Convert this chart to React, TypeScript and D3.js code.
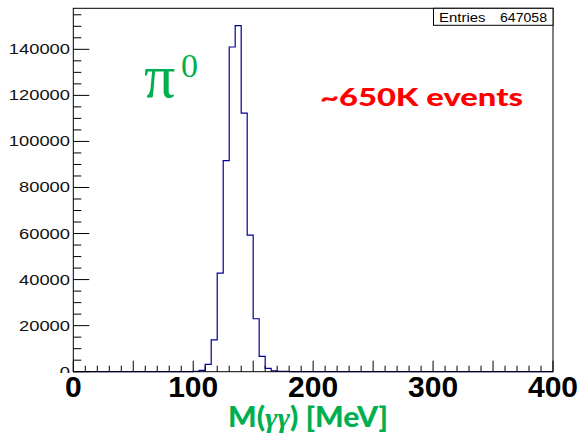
import React from "react";
import * as d3 from "d3";

// Histogram of diphoton invariant mass, 5 MeV bins starting at 100 MeV
const binLowEdges = [100, 105, 110, 115, 120, 125, 130, 135, 140, 145, 150, 155, 160, 165, 170, 175];
const binCounts = [150, 570, 3200, 13800, 42800, 91700, 141000, 150300, 112300, 59300, 23000, 6650, 1430, 400, 200, 100];
const binWidth = 5;
const xDomain = [0, 400];
const xLabelTicks = [0, 100, 200, 300, 400];
const yLabelTicks = [0, 20000, 40000, 60000, 80000, 100000, 120000, 140000];
const entries = 647058;

const W = 579;
const H = 435;
const frame = { left: 73.3, right: 553, top: 8.3, bottom: 371.7 };

const GREEN = "#00B050";
const HIST_BLUE = "#000099";

export default function App() {
  const yMax = 1.05 * (d3.max(binCounts) as number);
  const x = d3.scaleLinear().domain(xDomain).range([frame.left, frame.right]);
  const y = d3.scaleLinear().domain([0, yMax]).range([frame.bottom, frame.top]);

  // full set of bins across the axis range, empty outside the filled region
  const nBins = (xDomain[1] - xDomain[0]) / binWidth;
  const pts: [number, number][] = [];
  for (let i = 0; i < nBins; i++) {
    const lo = xDomain[0] + i * binWidth;
    const k = binLowEdges.indexOf(lo);
    pts.push([lo, k >= 0 ? binCounts[k] : 0]);
  }
  pts.push([xDomain[1], pts[pts.length - 1][1]]);
  const stepPath = d3
    .line<[number, number]>()
    .x((d) => x(d[0]))
    .y((d) => y(d[1]))
    .curve(d3.curveStepAfter)(pts) as string;

  const xMajor = d3.range(0, 401, 50);
  const xMinor = d3.range(0, 401, 10).filter((v) => v % 50 !== 0);
  const yMajor = yLabelTicks;
  const yMinor = d3.range(0, yMax, 5000).filter((v) => v % 20000 !== 0);

  const digitW = 10.2;

  return (
    <svg
      width={W}
      height={H}
      style={{ position: "absolute", left: 0, top: 0, background: "#fff" }}
      xmlns="http://www.w3.org/2000/svg"
    >
      <rect x={0} y={0} width={W} height={H} fill="#fff" />

      {/* histogram outline */}
      <path d={stepPath} fill="none" stroke={HIST_BLUE} strokeWidth={1.2} />

      {/* frame */}
      <rect
        x={frame.left}
        y={frame.top}
        width={frame.right - frame.left}
        height={frame.bottom - frame.top}
        fill="none"
        stroke="#000"
        strokeWidth={1}
      />

      {/* y axis ticks and labels */}
      <g fontFamily="'Liberation Sans', Arial, sans-serif" fontSize={14} fill="#111">
        {yMajor.map((v) => (
          <g key={"ym" + v}>
            <line x1={frame.left} x2={frame.left + 16} y1={y(v)} y2={y(v)} stroke="#000" strokeWidth={1} />
            <text
              x={70}
              y={y(v) + 5}
              textAnchor="end"
              textLength={String(v).length * digitW}
              lengthAdjust="spacingAndGlyphs"
            >
              {v}
            </text>
          </g>
        ))}
        {yMinor.map((v) => (
          <line key={"yn" + v} x1={frame.left} x2={frame.left + 8} y1={y(v)} y2={y(v)} stroke="#000" strokeWidth={1} />
        ))}
      </g>

      {/* x axis ticks */}
      {xMajor.map((v) => (
        <line key={"xm" + v} x1={x(v)} x2={x(v)} y1={frame.bottom} y2={frame.bottom - 11} stroke="#000" strokeWidth={1} />
      ))}
      {xMinor.map((v) => (
        <line key={"xn" + v} x1={x(v)} x2={x(v)} y1={frame.bottom} y2={frame.bottom - 6} stroke="#000" strokeWidth={1} />
      ))}

      {/* label band below the axis */}
      <rect x={40} y={frame.bottom + 1.3} width={W - 40} height={H - frame.bottom} fill="#fff" />

      <g fontFamily="'Liberation Sans', Arial, sans-serif" fontWeight="bold" fontSize={30} fill="#000">
        {xLabelTicks.map((v) => (
          <text key={"xl" + v} x={x(v)} y={397} textAnchor="middle">
            {v}
          </text>
        ))}
      </g>

      {/* axis title */}
      <text
        x={228}
        y={427}
        fill={GREEN}
        fontFamily="Lato, 'Open Sans', sans-serif"
        fontWeight={900}
        fontSize={28}
        textLength={160}
        lengthAdjust="spacingAndGlyphs"
      >
        M(
        <tspan fontFamily="'Liberation Serif', serif" fontStyle="italic">γγ</tspan>
        ) [MeV]
      </text>

      {/* stats box */}
      <rect x={433.5} y={8.3} width={553 - 433.5} height={17} fill="#fff" stroke="#000" strokeWidth={1} />
      <g fontFamily="'Liberation Sans', Arial, sans-serif" fontSize={12} fill="#000">
        <text x={439} y={21.5} textLength={46.5} lengthAdjust="spacingAndGlyphs">
          Entries
        </text>
        <text x={547} y={21.5} textAnchor="end" textLength={47} lengthAdjust="spacingAndGlyphs">
          {entries}
        </text>
      </g>

      {/* annotations */}
      <text x={144} y={96.5} fill={GREEN} fontFamily="'Liberation Serif', serif" fontSize={62}>
        π
      </text>
      <text x={181} y={77} fill={GREEN} fontFamily="'Liberation Serif', serif" fontSize={34}>
        0
      </text>
      <text
        x={320}
        y={106}
        fill="#FF0000"
        fontFamily="Lato, 'Open Sans', sans-serif"
        fontWeight={900}
        fontSize={24}
        textLength={203}
        lengthAdjust="spacingAndGlyphs"
      >
        ~650K events
      </text>
    </svg>
  );
}
